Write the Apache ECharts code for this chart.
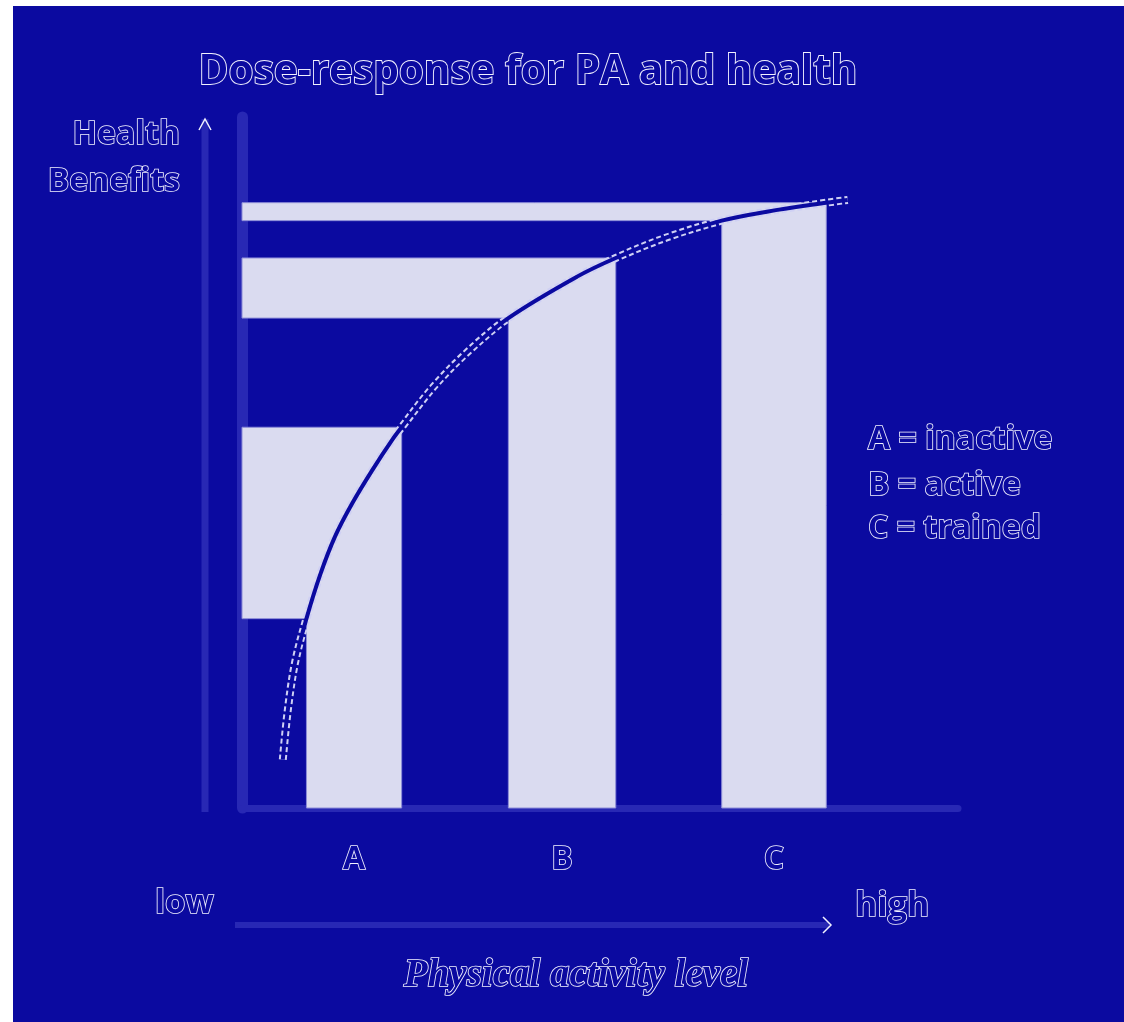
<!DOCTYPE html>
<html>
<head>
<meta charset="utf-8">
<script src="https://cdn.jsdelivr.net/npm/echarts@6/dist/echarts.min.js"></script>
<style>
  html, body { margin: 0; padding: 0; background: #ffffff; }
  #chart { position: absolute; left: 13px; top: 6px; width: 1111px; height: 1016px; }
</style>
</head>
<body>
<div id="chart"></div>
<script>
// ---- data ----
const groupLabels   = ['A', 'B', 'C'];
const levelStart    = [9.0, 37.2, 67.0];
const levelEnd      = [22.3, 52.2, 81.6];
const benefitLow    = [27.4, 70.9, 85.0];
const benefitHigh   = [55.1, 79.6, 87.6];
const curveLevel    = [5.7, 6.4, 7.4, 9.0, 10.9, 13.0, 15.4, 18.2, 21.0, 22.3, 26.7, 31.4, 37.2, 46.8, 52.2, 59.4, 67.0, 73.3, 81.6, 84.6];
const curveBenefit  = [7.0, 14.2, 21.0, 27.4, 33.7, 39.3, 44.1, 48.9, 53.3, 55.1, 60.9, 65.9, 70.9, 76.9, 79.6, 82.6, 85.0, 86.3, 87.6, 88.0];
const legendLines   = ['A = inactive', 'B = active', 'C = trained'];
const titleText     = 'Dose-response for PA and health';
const yName         = ['Health', 'Benefits'];
const xName         = 'Physical activity level';
const xLow = 'low', xHigh = 'high';

// ---- styles ----
const BG = '#0b0aa0';
const LAV = '#dadbf0';
const AXIS = '#2828b4';
const OUT = '#f2f2ff';
const FONT = '"Open Sans", sans-serif';

function outlined(extra) {
  return Object.assign({ fill: BG, stroke: OUT, lineWidth: 1.6, fontFamily: FONT, fontWeight: 'bold' }, extra);
}

const barData = groupLabels.map((g, i) => [levelStart[i], levelEnd[i], benefitLow[i], benefitHigh[i], g]);
const curveData = curveLevel.map((x, i) => [x, curveBenefit[i]]);

const chart = echarts.init(document.getElementById('chart'));
chart.setOption({
  backgroundColor: BG,
  animation: false,
  title: {
    text: titleText,
    left: 510,
    top: 41,
    textAlign: 'center',
    textStyle: {
      fontFamily: FONT, fontSize: 40.5, fontWeight: 'bold',
      color: BG, textBorderColor: OUT, textBorderWidth: 1.8
    }
  },
  grid: { left: 229, top: 111, right: 166, bottom: 214 },
  xAxis: {
    type: 'value', min: 0, max: 100, offset: 3,
    axisLine: { show: true, lineStyle: { color: AXIS, width: 7 } },
    axisTick: { show: false }, axisLabel: { show: false }, splitLine: { show: false }
  },
  yAxis: {
    type: 'value', min: 0, max: 100, offset: 6,
    axisLine: { show: true, lineStyle: { color: AXIS, width: 11 } },
    axisTick: { show: false }, axisLabel: { show: false }, splitLine: { show: false }
  },
  series: [
    {
      type: 'custom',
      z: 2,
      data: barData,
      renderItem: function (params, api) {
        const s = api.value(0), e = api.value(1), lo = api.value(2), hi = api.value(3);
        const p0 = api.coord([0, hi]);
        const p1 = api.coord([e, hi]);
        const p2 = api.coord([e, 0]);
        const p3 = api.coord([s, 0]);
        const p4 = api.coord([s, lo]);
        const p5 = api.coord([0, lo]);
        return {
          type: 'group',
          children: [
            {
              type: 'polygon',
              shape: { points: [p0, p1, p2, p3, p4, p5] },
              style: { fill: LAV, stroke: '#8c8cd8', lineWidth: 1 }
            },
            {
              type: 'text',
              style: outlined({
                text: groupLabels[params.dataIndex],
                x: (p2[0] + p3[0]) / 2, y: p2[1] + 52,
                fontSize: 32, align: 'center', verticalAlign: 'middle'
              })
            }
          ]
        };
      }
    },
    {
      type: 'line', z: 3, data: curveData, smooth: 0.35, symbol: 'none',
      lineStyle: { color: '#cfd0f4', width: 8, type: [5, 3] }
    },
    {
      type: 'line', z: 4, data: curveData, smooth: 0.35, symbol: 'none',
      lineStyle: { color: BG, width: 4 }
    }
  ],
  graphic: [
    // outer vertical arrow
    { type: 'line', shape: { x1: 192, y1: 113, x2: 192, y2: 806 }, style: { stroke: AXIS, lineWidth: 7 }, z: 1 },
    { type: 'polyline', shape: { points: [[186, 124], [192, 113], [198, 124]] }, style: { stroke: OUT, lineWidth: 1.5, fill: null }, z: 5 },
    // bottom horizontal arrow
    { type: 'line', shape: { x1: 222, y1: 919, x2: 816, y2: 919 }, style: { stroke: AXIS, lineWidth: 6 }, z: 1 },
    { type: 'polyline', shape: { points: [[810, 911], [818, 919], [810, 927]] }, style: { stroke: OUT, lineWidth: 1.5, fill: null }, z: 5 },
    // y axis name
    { type: 'text', z: 5, style: outlined({ text: yName[0], x: 167, y: 129, fontSize: 32, align: 'right', verticalAlign: 'middle' }) },
    { type: 'text', z: 5, style: outlined({ text: yName[1], x: 167, y: 176, fontSize: 32, align: 'right', verticalAlign: 'middle' }) },
    // legend lines
    { type: 'text', z: 5, style: outlined({ text: legendLines[0], x: 855, y: 434, fontSize: 32, align: 'left', verticalAlign: 'middle' }) },
    { type: 'text', z: 5, style: outlined({ text: legendLines[1], x: 855, y: 480, fontSize: 32, align: 'left', verticalAlign: 'middle' }) },
    { type: 'text', z: 5, style: outlined({ text: legendLines[2], x: 855, y: 523, fontSize: 32, align: 'left', verticalAlign: 'middle' }) },
    // low / high
    { type: 'text', z: 5, style: outlined({ text: xLow, x: 142, y: 898, fontSize: 33, align: 'left', verticalAlign: 'middle' }) },
    { type: 'text', z: 5, style: outlined({ text: xHigh, x: 842, y: 900, fontSize: 34, align: 'left', verticalAlign: 'middle' }) },
    // x axis name
    { type: 'text', z: 5, style: outlined({ text: xName, x: 563, y: 970, fontSize: 39, fontStyle: 'italic', fontFamily: '"Liberation Serif", serif', align: 'center', verticalAlign: 'middle' }) }
  ]
});
</script>
</body>
</html>
